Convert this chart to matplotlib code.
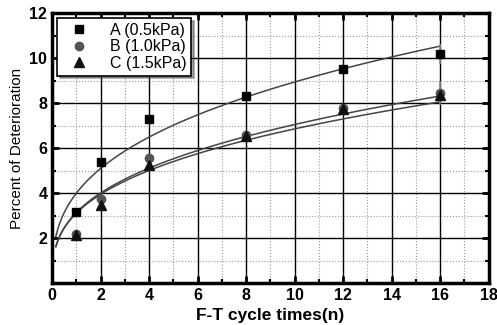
import numpy as np
import matplotlib.pyplot as plt
from matplotlib.ticker import MultipleLocator

plt.rcParams['font.family'] = ['Liberation Sans', 'DejaVu Sans']

cycles = [1, 2, 4, 8, 12, 16]
a_vals = [3.16, 5.38, 7.30, 8.33, 9.53, 10.18]
b_vals = [2.18, 3.73, 5.56, 6.58, 7.78, 8.45]
c_vals = [2.15, 3.45, 5.25, 6.52, 7.72, 8.35]

# error bars at the last point only
err_x = 16
a_err = [0.45, 0.45]
b_err = [0.55, 0.55]

# power fits y = k * n^p
fit_a = (4.0, 0.349)
fit_b = (3.14, 0.351)
fit_c = (3.11, 0.343)

labels = ['A (0.5kPa)', 'B (1.0kPa)', 'C (1.5kPa)']

fig = plt.figure(figsize=(4.97, 3.25), dpi=100)
ax = fig.add_axes([0.105, 0.129, 0.878, 0.831])

n = np.linspace(0.15, 16, 200)
for k, p in [fit_a, fit_b, fit_c]:
    ax.plot(n, k * n ** p, color='#444444', lw=1.1, zorder=3)

ax.errorbar([err_x], [a_vals[-1]], yerr=[[a_err[0]], [a_err[1]]], fmt='none',
            ecolor='#888888', lw=1.2, capsize=0, zorder=3)
ax.errorbar([err_x], [b_vals[-1]], yerr=[[b_err[0]], [b_err[1]]], fmt='none',
            ecolor='#888888', lw=1.2, capsize=0, zorder=3)

ax.plot(cycles, a_vals, 's', color='black', ms=6, label=labels[0], zorder=4)
ax.plot(cycles, b_vals, 'o', color='#555555', ms=6, label=labels[1], zorder=4)
ax.plot(cycles, c_vals, '^', color='#111111', ms=7, label=labels[2], zorder=4)

ax.set_xlim(0, 18)
ax.set_ylim(0, 12)
ax.xaxis.set_minor_locator(MultipleLocator(1))
ax.yaxis.set_minor_locator(MultipleLocator(1))
ax.set_xticks(range(0, 19, 2))
ax.set_xticklabels([str(v) for v in range(0, 19, 2)], fontweight='bold', fontsize=11.5)
ax.set_yticks([2, 4, 6, 8, 10, 12])
ax.set_yticklabels(['2', '4', '6', '8', '10', '12'], fontweight='bold', fontsize=11.5)

ax.grid(which='major', color='black', lw=1.0, ls='-')
ax.grid(which='minor', color='#999999', lw=0.8, ls=':')
ax.set_axisbelow(True)

ax.tick_params(which='both', direction='in', top=True, right=True)
ax.tick_params(which='major', length=5, width=2)
ax.tick_params(which='minor', length=3, width=1.5)
for sp in ax.spines.values():
    sp.set_linewidth(2.5)

ax.set_xlabel('F-T cycle times(n)', fontweight='bold', fontsize=12.5)
ax.set_ylabel('Percent of Deterioration', fontsize=11)

leg = ax.legend(loc='upper left', fancybox=False, shadow=True, fontsize=11.5,
                edgecolor='black', framealpha=1, borderpad=0.3, handletextpad=0.8,
                labelspacing=0.1, borderaxespad=0.3, handlelength=2.2)
leg.get_frame().set_linewidth(1.2)

fig.savefig('out.png', dpi=100)
